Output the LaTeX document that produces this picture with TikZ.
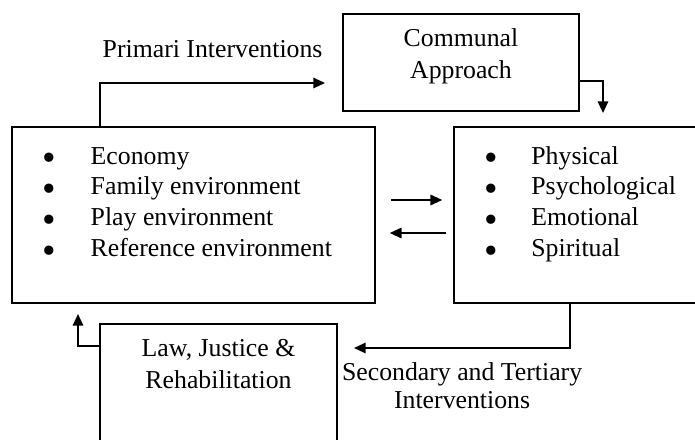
\documentclass[tikz,border=0pt]{standalone}
\usepackage{fontspec}
\setmainfont{Liberation Serif}
\usetikzlibrary{positioning,arrows.meta,calc}

\newcommand{\bigdot}{\smash{\raisebox{-0.55ex}{\scalebox{1.5}{•}}}}

\begin{document}
\begin{tikzpicture}[
  x=0.03cm, y=-0.03cm,
  panel/.style ={draw, line width=1.4pt, inner sep=0pt,
                 font=\fontsize{22}{27}\selectfont, align=center},
  bullets/.style={inner sep=0pt, anchor=north west,
                 font=\fontsize{22}{26.4}\selectfont},
  tag/.style   ={inner sep=0pt, align=center,
                 font=\fontsize{22}{24}\selectfont},
  arr/.style   ={-{Triangle[length=10pt,width=9pt]}, line width=1.3pt}]

\clip (0,0) rectangle (695,439);

% the four boxes
\node[panel, minimum width=10.89cm, minimum height=5.28cm] (env)      at (193.5,215) {};
\node[panel, minimum width=7.98cm,  minimum height=5.28cm] (health)   at (587,215)   {};
\node[panel, minimum width=7.08cm,  minimum height=2.91cm,
      text depth=15pt] (communal) at (461,62.5) {Communal\\Approach};
\node[panel, minimum width=7.11cm,  minimum height=4.38cm] (law)      at (218.5,397) {};
\node[tag, anchor=north] (lawtext) at ($(law.north)+(0,16)$) {Law, Justice \&\\[3pt]Rehabilitation};

% bullet lists
\node[bullets] (envlist) at ($(env.north west)+(31,16)$) {%
  \begin{tabular}{@{}p{1.45cm}@{}l@{}}
  \bigdot & Economy\\
  \bigdot & Family environment\\
  \bigdot & Play environment\\
  \bigdot & Reference environment
  \end{tabular}};
\node[bullets] (healthlist) at ($(health.north west)+(31,16)$) {%
  \begin{tabular}{@{}p{1.41cm}@{}l@{}}
  \bigdot & Physical\\
  \bigdot & Psychological\\
  \bigdot & Emotional\\
  \bigdot & Spiritual
  \end{tabular}};

% arrow ends
\coordinate (primtip) at (325,83);
\coordinate (commtip) at (603,113);
\coordinate (sectip)  at (354,348);
\coordinate (lawtip)  at (78,314);

\draw[arr] (env.north west) ++(89,0) |- (primtip)
  node[tag, pos=0.75, above=0.72cm] (primlabel) {Primari Interventions};
\draw[arr] (communal.east) ++(0,18.5) -| (commtip);
\draw[arr] ($(env.east)+(15,-15)$) -- ($(health.west)+(-11,-15)$);
\draw[arr] ($(health.west)+(-7,18)$) -- ($(env.east)+(14,18)$);
\draw[arr] (health.south west) ++(117,0) |- (sectip)
  node[tag, pos=0.75, below=0.42cm] (seclabel) {Secondary and Tertiary\\Interventions};
\draw[arr] (law.north west) ++(0,23) -| (lawtip);
\end{tikzpicture}
\end{document}
